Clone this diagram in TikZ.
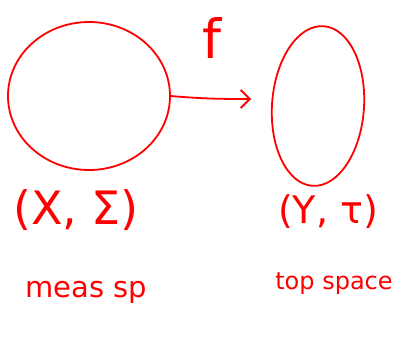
\documentclass[tikz,border=0pt]{standalone}
\usepackage{fontspec}
\setmainfont{DejaVu Sans}
\usetikzlibrary{shapes.geometric,arrows.meta}
\begin{document}
\begin{tikzpicture}[x=1pt,y=-1pt,
  ink/.style={draw=red, line width=1.8pt},
  lbl/.style={text=red, inner sep=0pt}]
\useasboundingbox (0,0) rectangle (395,345);
\node[ink, ellipse, minimum width=162, minimum height=148, inner sep=0pt] (X) at (89,96) {};
\node[ink, ellipse, minimum width=92, minimum height=160, inner sep=0pt, rotate=-4] (Y) at (318,106) {};
\coordinate (fend) at (251,99);
\draw[ink, -{Straight Barb[length=9pt,width=18pt]}] (X.east) to[out=-5,in=180] (fend);
\node[lbl, font=\fontsize{54}{58}\selectfont] (f) at (212,38) {f};
\node[lbl, font=\fontsize{46}{50}\selectfont] (xs) at (76,210) {(X, Σ)};
\node[lbl, font=\fontsize{38}{42}\selectfont] (yt) at (328,212) {(Y, τ)};
\node[lbl, font=\fontsize{29}{33}\selectfont] (ms) at (86,292) {meas sp};
\node[lbl, font=\fontsize{24}{28}\selectfont] (ts) at (334,284) {top space};
\end{tikzpicture}
\end{document}
